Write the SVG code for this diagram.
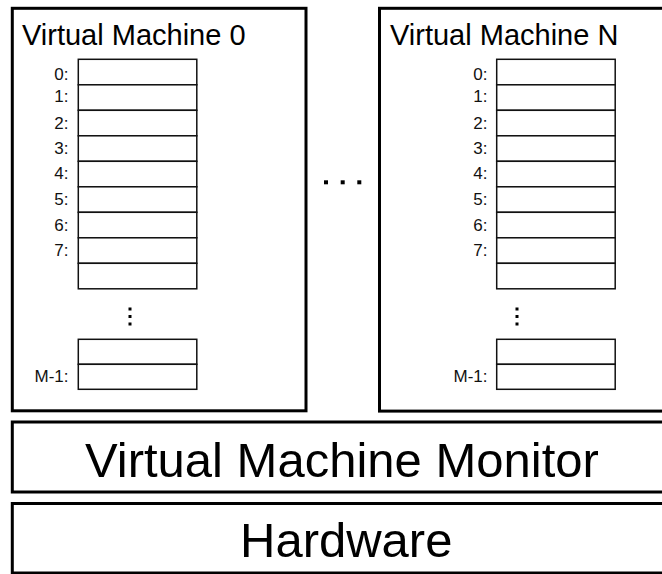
<svg xmlns="http://www.w3.org/2000/svg" width="662" height="574" viewBox="0 0 662 574">
  <style>
    .frame { fill: #ffffff; stroke: #000000; stroke-width: 3; }
    .reg { fill: #ffffff; stroke: #111111; stroke-width: 1.5; }
    .title { font-family: "Liberation Sans", Arial, Helvetica, sans-serif; font-size: 29px; fill: #000000; }
    .big { font-family: "Liberation Sans", Arial, Helvetica, sans-serif; font-size: 49px; fill: #000000; }
    .lbl { font-family: "Liberation Sans", Arial, Helvetica, sans-serif; font-size: 17px; fill: #111111; text-anchor: end; }
    .dot { fill: #000000; }
  </style>
  <defs>
    <!-- one memory slot -->
    <rect id="slot" class="reg" x="0" y="0" width="118.5" height="25.5"/>
    <!-- vertical ellipsis between the slot stacks -->
    <g id="vdots">
      <rect class="dot" x="-1.5" y="-1.5" width="3" height="3"/>
      <rect class="dot" x="-1.5" y="6" width="3" height="3"/>
      <rect class="dot" x="-1.5" y="13.5" width="3" height="3"/>
    </g>
    <!-- a full memory column: slots 0..7, one spare, dots, then the last two -->
    <g id="memory">
      <use href="#slot" y="0"/>
      <use href="#slot" y="25.5"/>
      <use href="#slot" y="51"/>
      <use href="#slot" y="76.5"/>
      <use href="#slot" y="102"/>
      <use href="#slot" y="127.5"/>
      <use href="#slot" y="153"/>
      <use href="#slot" y="178.5"/>
      <use href="#slot" y="204"/>
      <rect class="reg" x="0" y="280" width="118.5" height="25"/>
      <rect class="reg" x="0" y="305" width="118.5" height="25"/>
    </g>
  </defs>

  <!-- first guest -->
  <g id="vm0">
    <rect class="frame" x="12.3" y="8.3" width="293.7" height="402.5"/>
    <text class="title" x="22" y="45">Virtual Machine 0</text>
    <use href="#memory" x="78.3" y="59.3"/>
    <use href="#vdots" x="130" y="309"/>
    <g>
      <text class="lbl" x="68.5" y="80">0:</text>
      <text class="lbl" x="68.5" y="102">1:</text>
      <text class="lbl" x="68.5" y="129">2:</text>
      <text class="lbl" x="68.5" y="154">3:</text>
      <text class="lbl" x="68.5" y="179">4:</text>
      <text class="lbl" x="68.5" y="205">5:</text>
      <text class="lbl" x="68.5" y="231">6:</text>
      <text class="lbl" x="68.5" y="256">7:</text>
      <text class="lbl" x="68.5" y="382">M-1:</text>
    </g>
  </g>

  <!-- horizontal ellipsis between guests -->
  <g id="more-vms">
    <rect class="dot" x="324" y="180.3" width="4" height="4"/>
    <rect class="dot" x="340.7" y="180.3" width="4" height="4"/>
    <rect class="dot" x="357.3" y="180.3" width="4" height="4"/>
  </g>

  <!-- last guest -->
  <g id="vmN">
    <rect class="frame" x="379.5" y="8.3" width="300" height="402.8"/>
    <text class="title" x="390" y="45">Virtual Machine N</text>
    <use href="#memory" x="496.7" y="59.3"/>
    <use href="#vdots" x="517" y="309"/>
    <g>
      <text class="lbl" x="487.5" y="80">0:</text>
      <text class="lbl" x="487.5" y="102">1:</text>
      <text class="lbl" x="487.5" y="129">2:</text>
      <text class="lbl" x="487.5" y="154">3:</text>
      <text class="lbl" x="487.5" y="179">4:</text>
      <text class="lbl" x="487.5" y="205">5:</text>
      <text class="lbl" x="487.5" y="231">6:</text>
      <text class="lbl" x="487.5" y="256">7:</text>
      <text class="lbl" x="487.5" y="382">M-1:</text>
    </g>
  </g>

  <g id="vmm">
    <rect class="frame" x="12.3" y="422" width="670" height="70"/>
    <text class="big" x="85" y="477">Virtual Machine Monitor</text>
  </g>

  <g id="hardware">
    <rect class="frame" x="12.3" y="503.5" width="670" height="69.5"/>
    <text class="big" x="240" y="557">Hardware</text>
  </g>
</svg>
